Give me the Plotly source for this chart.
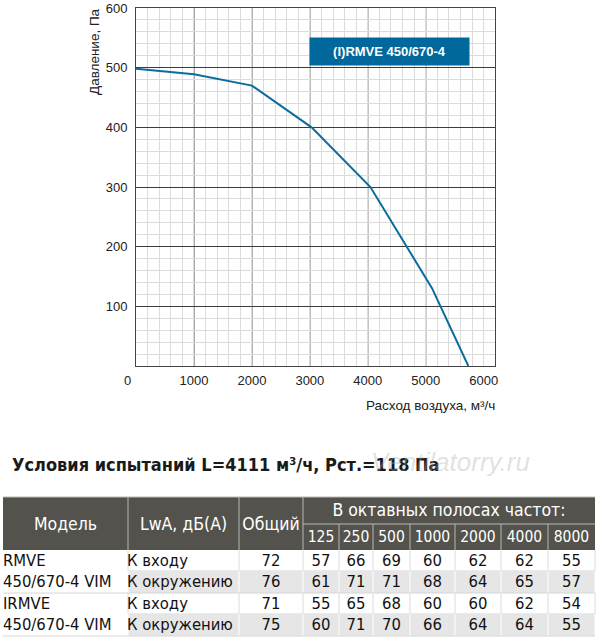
import plotly.graph_objects as go

# fan curve (I)RMVE 450/670-4
flow = [0, 1000, 2000, 3030, 4045, 5110, 5735]
pressure = [498, 489, 470, 400, 300, 130, 0]

x_ticks = [1000, 2000, 3000, 4000, 5000, 6000]
y_ticks = [100, 200, 300, 400, 500, 600]
curve_label = "(I)RMVE 450/670-4"

# noise table
test_title = "Условия испытаний L=4111 м³/ч, Pст.=118 Па"
header_top = ["Модель", "LwA, дБ(А)", "Общий"]
bands_title = "В октавных полосах частот:"
bands = ["125", "250", "500", "1000", "2000", "4000", "8000"]
model_lines = ["RMVE", "450/670-4 VIM", "IRMVE", "450/670-4 VIM"]
sides = ["К входу", "К окружению", "К входу", "К окружению"]
total_level = [72, 76, 71, 75]
band_levels = [
    [57, 66, 69, 60, 62, 62, 55],
    [61, 71, 71, 68, 64, 65, 57],
    [55, 65, 68, 60, 60, 62, 54],
    [60, 71, 70, 66, 64, 64, 55],
]

W, H = 600, 643
CHART_FONT = "Liberation Sans, Arial, sans-serif"
TABLE_FONT = "DejaVu Sans Condensed, DejaVu Sans, sans-serif"
BLUE = "#0b6d9c"
HEAD_BG = "#53524d"

# table grid, page pixels (x2 / y2 axes are laid out 1:1 with the page)
col_edges = [3, 128, 239, 303, 339, 373, 410, 455, 501, 548, 595]
row_edges = [497, 524, 550, 571, 593, 614, 636]

fig = go.Figure()

# ---- chart ----
fig.add_trace(go.Scatter(
    x=flow, y=pressure, mode="lines",
    line=dict(color=BLUE, width=2), hoverinfo="skip",
))

shapes = []
for gx in range(1000, 6000, 1000):
    shapes.append(dict(type="line", xref="x", yref="y domain", x0=gx, x1=gx, y0=0, y1=1,
                       line=dict(color="#3c3c3c", width=1), layer="below"))

# ---- table backgrounds and lines ----
def rect(x0, x1, y0, y1, fill):
    shapes.append(dict(type="rect", xref="x2", yref="y2", x0=x0, x1=x1, y0=y0, y1=y1,
                       fillcolor=fill, line=dict(width=0), layer="below"))

def seg(x0, x1, y0, y1, color, width=1):
    shapes.append(dict(type="line", xref="x2", yref="y2", x0=x0, x1=x1, y0=y0, y1=y1,
                       line=dict(color=color, width=width), layer="below"))

left, right = col_edges[0], col_edges[-1]
rect(left, right, row_edges[0], row_edges[2], HEAD_BG)
seg(left, right, row_edges[0], row_edges[0], "#b8b8b4")
for cx in col_edges[1:4]:
    seg(cx, cx, row_edges[0], row_edges[2], "#b8b8b4")
for cx in col_edges[4:-1]:
    seg(cx, cx, row_edges[1], row_edges[2], "#b8b8b4")
seg(col_edges[3], right, row_edges[1], row_edges[1], "#b8b8b4")

n_rows = len(sides)
for i in range(n_rows):
    y0, y1 = row_edges[2 + i], row_edges[3 + i]
    striped = i % 2 == 1
    if striped:
        rect(col_edges[1], right, y0, y1, "#e6e6e6")
    for cx in col_edges[1:]:
        seg(cx, cx, y0, y1, "#ffffff" if striped else "#dcdcdc")
    start = left if striped else col_edges[1]
    seg(start, right, y1, y1, "#d6d6d6")

# ---- table text ----
def mid(a, b):
    return (a + b) / 2

hx = [mid(col_edges[i], col_edges[i + 1]) for i in range(3)]
hy = mid(row_edges[0], row_edges[2]) + 2
fig.add_trace(go.Scatter(
    x=hx + [mid(col_edges[3], right)], y=[hy] * 3 + [mid(row_edges[0], row_edges[1]) + 1],
    xaxis="x2", yaxis="y2", mode="text", text=header_top + [bands_title],
    textfont=dict(family=TABLE_FONT, size=17.5, color="white"), hoverinfo="skip", cliponaxis=False,
))
fig.add_trace(go.Scatter(
    x=[mid(col_edges[3 + i], col_edges[4 + i]) for i in range(len(bands))],
    y=[mid(row_edges[1], row_edges[2]) + 1] * len(bands),
    xaxis="x2", yaxis="y2", mode="text", text=bands,
    textfont=dict(family=TABLE_FONT, size=15.5, color="white"), hoverinfo="skip", cliponaxis=False,
))

row_mid = [mid(row_edges[2 + i], row_edges[3 + i]) + 1 for i in range(n_rows)]
fig.add_trace(go.Scatter(
    x=[col_edges[0]] * n_rows + [col_edges[1] - 1] * n_rows, y=row_mid * 2,
    xaxis="x2", yaxis="y2", mode="text", text=model_lines + sides, textposition="middle right",
    textfont=dict(family=TABLE_FONT, size=16.5, color="#111"), hoverinfo="skip", cliponaxis=False,
))
cell_x, cell_y, cell_t = [], [], []
for i in range(n_rows):
    cell_x.append(mid(col_edges[2], col_edges[3]))
    cell_y.append(row_mid[i])
    cell_t.append(str(total_level[i]))
    for j, v in enumerate(band_levels[i]):
        cell_x.append(mid(col_edges[3 + j], col_edges[4 + j]))
        cell_y.append(row_mid[i])
        cell_t.append(str(v))
fig.add_trace(go.Scatter(
    x=cell_x, y=cell_y, xaxis="x2", yaxis="y2", mode="text", text=cell_t,
    textfont=dict(family=TABLE_FONT, size=16.5, color="#111"), hoverinfo="skip", cliponaxis=False,
))

tick_font = dict(family=CHART_FONT, size=13, color="#222")
annotations = [
    dict(text=curve_label, xref="paper", yref="paper", x=389.5 / W, y=1 - 51.3 / H,
         xanchor="center", yanchor="middle", showarrow=False,
         font=dict(family=CHART_FONT, size=13, color="white", weight="bold"),
         bgcolor="#00689a", width=155, height=23, borderpad=2),
    dict(text="Давление, Па", xref="paper", yref="paper", x=95 / W, y=1 - 52 / H,
         xanchor="center", yanchor="middle", textangle=-90, showarrow=False,
         font=dict(family=CHART_FONT, size=13.5, color="#222")),
    dict(text="Расход воздуха, м³/ч", xref="paper", yref="paper", x=497 / W, y=1 - 405 / H,
         xanchor="right", yanchor="middle", showarrow=False,
         font=dict(family=CHART_FONT, size=13.5, color="#222")),
    dict(text="0", xref="paper", yref="paper", x=127 / W, y=1 - 380 / H,
         xanchor="center", yanchor="middle", showarrow=False, font=tick_font),
    dict(text=test_title, xref="paper", yref="paper", x=10 / W, y=1 - 465 / H,
         xanchor="left", yanchor="middle", showarrow=False,
         font=dict(family=TABLE_FONT, size=18, color="#1a1a1a", weight="bold")),
    dict(text="Ventilatorry.ru", xref="paper", yref="paper", x=450 / W, y=1 - 462 / H,
         xanchor="center", yanchor="middle", showarrow=False,
         font=dict(family=CHART_FONT, size=26, color="rgba(170,170,170,0.35)", style="italic")),
]

fig.update_layout(
    width=W, height=H,
    margin=dict(l=0, r=0, t=0, b=0),
    paper_bgcolor="white", plot_bgcolor="rgba(0,0,0,0)",
    showlegend=False,
    shapes=shapes,
    annotations=annotations,
    xaxis=dict(
        domain=[136 / W, 495 / W], range=[0, 6195], tickvals=x_ticks,
        showgrid=False, zeroline=False, ticks="", automargin=False,
        showline=True, mirror=True, linecolor="#444", linewidth=1,
        minor=dict(tickmode="linear", tick0=0, dtick=200, showgrid=True,
                   gridcolor="#dcdcdc", gridwidth=1),
        tickfont=tick_font, ticklabelstandoff=2, fixedrange=True,
    ),
    yaxis=dict(
        domain=[1 - 366 / H, 1 - 8 / H], range=[0, 600], tickvals=y_ticks,
        showgrid=True, gridcolor="#3c3c3c", gridwidth=1, zeroline=False, ticks="",
        automargin=False, showline=True, mirror=True, linecolor="#444", linewidth=1,
        minor=dict(tickmode="linear", tick0=0, dtick=20, showgrid=True,
                   gridcolor="#dcdcdc", gridwidth=1),
        tickfont=tick_font, ticklabelstandoff=5, fixedrange=True,
    ),
    xaxis2=dict(domain=[0, 1], range=[0, W], anchor="y2", visible=False,
                automargin=False, fixedrange=True),
    yaxis2=dict(domain=[0, 1], range=[H, 0], anchor="x2", visible=False,
                automargin=False, fixedrange=True),
)

# the page's default body margin would push the figure 8px right and down
fig.write_html("out.html", config={"displayModeBar": False},
               post_script="document.body.style.margin = '0';")
